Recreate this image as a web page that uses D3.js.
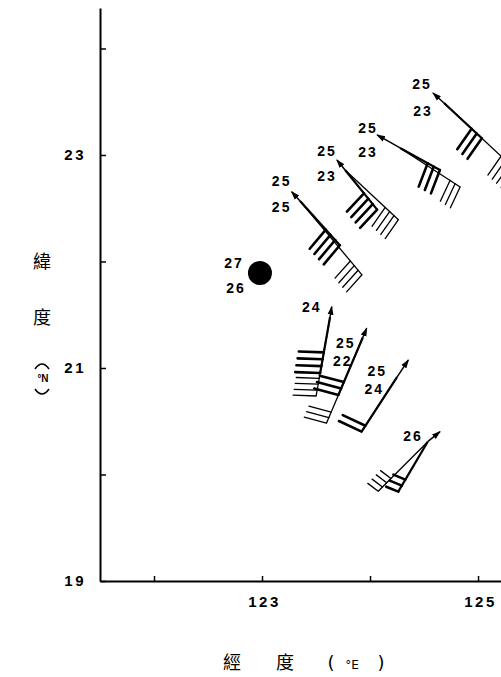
<!DOCTYPE html>
<html>
<head>
<meta charset="utf-8">
<script src="https://cdn.jsdelivr.net/npm/d3@7"></script>
<style>
  body { margin: 0; background: #fff; }
  svg { display: block; }
</style>
</head>
<body>
<div id="chart"></div>
<script>
// station base points (deg E / deg N)
const stationLon = [124.685, 124.278, 123.769, 123.352, 122.981, 123.630, 123.933, 124.25, 124.534];
const stationLat = [23.488, 23.066, 22.859, 22.568, 21.892, 21.479, 21.286, 20.915, 20.308];
// arrow vector: compass direction and length (deg of longitude)
const arrowDir = [312, 299.5, 321, 318, null, 9.4, 23, 33.6, 51];
const arrowLen = [0.138, 0.244, 0.12, 0.116, 0, 0.096, 0.093, 0.189, 0.147];
// heavy barb shaft
const thickDir = [133, 119, 141, 138, null, 190, 203, 213, 210.5];
const thickLen = [0.479, 0.422, 0.472, 0.551, 0, 0.527, 0.578, 0.602, 0.537];
const thickBarbs = ["FFF", "FFF", "FFFF", "FFFF", "", "FFFF", "FFF", "FF", "hhh"];
// light barb shaft
const thinDir = [133, 123, 133, 140, null, 190, 203, 213, 225];
const thinLen = [0.889, 0.663, 0.675, 0.892, 0, 0.743, 0.861, 0.602, 0.648];
const thinBarbs = ["FFFF", "FFF", "FFFF", "FFFF", "", "FFFF", "FFF", "", "hhhh"];
// numbers printed beside each station
const tempTop = ["25", "25", "25", "25", "27", "24", "25", "25", "26"];
const tempBottom = ["23", "23", "23", "25", "26", "", "22", "24", ""];

const xTicks = [122, 123, 124, 125];
const xTickLabels = {123: "123", 125: "125"};
const yTicks = [19, 20, 21, 22, 23, 24];
const yTickLabels = {19: "19", 21: "21", 23: "23"};

// label placement relative to arrow tip (px) - layout only
const labelOffsetTop = [[-12,-9],[-10,-7],[-11,-9],[-11,-11],[-27,-10],[-21,0],[-22,15],[-32,11],[-28,4]];
const labelOffsetBottom = [[-11,18],[-10,17],[-11,16],[-11,15],[-25,15],null,[-25,33],[-35,29],null];

const width = 501;
const height = 677;

const svg = d3.select("#chart").append("svg")
    .attr("width", width)
    .attr("height", height);

const x = d3.scaleLinear().domain([121.5, 125.22]).range([100, 501.8]);
const y = d3.scaleLinear().domain([19, 24.38]).range([581, 8]);

//arrow head
svg.append("defs").append("marker")
    .attr("id", "head")
    .attr("markerUnits", "userSpaceOnUse")
    .attr("viewBox", "0 -4 9 8")
    .attr("refX", 8)
    .attr("refY", 0)
    .attr("markerWidth", 9)
    .attr("markerHeight", 8)
    .attr("orient", "auto")
    .append("path")
    .attr("d", "M0,-3L9,0L0,3Z")
    .attr("fill", "#000");

//axes
const yAxis = d3.axisLeft(y)
    .tickValues(yTicks)
    .tickSizeInner(-6)
    .tickSizeOuter(0)
    .tickPadding(14)
    .tickFormat(d => yTickLabels[d] || "");

const xAxis = d3.axisBottom(x)
    .tickValues(xTicks)
    .tickSizeInner(-5)
    .tickSizeOuter(0)
    .tickPadding(15)
    .tickFormat(d => xTickLabels[d] || "");

const gy = svg.append("g")
    .attr("transform", "translate(" + x(121.5) + ",0)")
    .call(yAxis);
const gx = svg.append("g")
    .attr("transform", "translate(0," + y(19) + ")")
    .call(xAxis);

[gx, gy].forEach(g => {
    g.select(".domain").attr("stroke-width", 2);
    g.selectAll(".tick line").attr("stroke-width", 1.5);
    g.selectAll("text")
        .attr("font-family", "Liberation Sans, Arial, sans-serif")
        .attr("font-size", 15)
        .attr("font-weight", "bold")
        .attr("letter-spacing", 2.5)
        .attr("fill", "#000");
});
gx.selectAll("text").attr("dx", 2);

//axis titles
const cjk = "Noto Sans CJK TC, Noto Sans CJK SC, sans-serif";
svg.append("text").attr("x", 42).attr("y", 268).attr("text-anchor", "middle")
    .attr("font-family", cjk).attr("font-size", 18).text("緯");
svg.append("text").attr("x", 42).attr("y", 324).attr("text-anchor", "middle")
    .attr("font-family", cjk).attr("font-size", 18).text("度");
// vertical parentheses around °N
svg.append("path").attr("d", "M35,369 Q42,359 49,369")
    .attr("fill", "none").attr("stroke", "#000").attr("stroke-width", 1.6);
svg.append("text").attr("x", 43).attr("y", 382).attr("text-anchor", "middle")
    .attr("font-family", "Liberation Sans, Arial").attr("font-weight", "bold")
    .attr("font-size", 10).text("°N");
svg.append("path").attr("d", "M35,389 Q42,399 49,389")
    .attr("fill", "none").attr("stroke", "#000").attr("stroke-width", 1.6);

const xTitle = [["經", 232], ["度", 285], ["(", 331], ["°E", 352], [")", 381]];
svg.selectAll(".xtitle")
    .data(xTitle)
    .enter()
    .append("text")
    .attr("class", "xtitle")
    .attr("x", d => d[1])
    .attr("y", 669)
    .attr("text-anchor", "middle")
    .attr("font-family", d => d[0].length == 1 && d[0] > "~" ? cjk : "DejaVu Sans")
    .attr("font-size", d => d[0] == "°E" ? 12 : 18)
    .text(d => d[0]);

//geometry helpers
const lenPx = L => x(121.5 + L) - x(121.5);
const unit = deg => [Math.sin(deg * Math.PI / 180), -Math.cos(deg * Math.PI / 180)];
const rot = (u, a) => {
    const r = a * Math.PI / 180;
    return [u[0] * Math.cos(r) - u[1] * Math.sin(r), u[0] * Math.sin(r) + u[1] * Math.cos(r)];
};

const plot = svg.append("g");

stationLon.forEach((lon, i) => {
    const bx = x(lon), by = y(stationLat[i]);
    let tip = [bx, by];

    if (arrowDir[i] === null) {
        // calm
        plot.append("circle").attr("cx", bx).attr("cy", by).attr("r", 12).attr("fill", "#000");
    } else {
        //two barb shafts
        [[thinDir, thinLen, thinBarbs, 1.3, 23, 6], [thickDir, thickLen, thickBarbs, 2.2, 25, 7]]
            .forEach(([dirs, lens, barbs, sw, bl, sp]) => {
                const u = unit(dirs[i]);
                const L = lenPx(lens[i]);
                const ex = bx + u[0] * L, ey = by + u[1] * L;
                plot.append("line")
                    .attr("x1", bx).attr("y1", by).attr("x2", ex).attr("y2", ey)
                    .attr("stroke", "#000").attr("stroke-width", sw);
                const bu = rot(u, 82);
                barbs[i].split("").forEach((b, k) => {
                    const px = ex - u[0] * k * sp, py = ey - u[1] * k * sp;
                    const len = b == "F" ? bl : 13;
                    plot.append("line")
                        .attr("x1", px).attr("y1", py)
                        .attr("x2", px + bu[0] * len).attr("y2", py + bu[1] * len)
                        .attr("stroke", "#000")
                        .attr("stroke-width", sw == 2.2 ? 2.6 : 1.3)
                        .attr("stroke-linecap", "round");
                });
            });
        //arrow
        const au = unit(arrowDir[i]);
        const AL = lenPx(arrowLen[i]);
        tip = [bx + au[0] * AL, by + au[1] * AL];
        plot.append("line")
            .attr("x1", bx).attr("y1", by).attr("x2", tip[0]).attr("y2", tip[1])
            .attr("stroke", "#000").attr("stroke-width", 1.5)
            .attr("marker-end", "url(#head)");
    }

    //numbers
    [[tempTop, labelOffsetTop], [tempBottom, labelOffsetBottom]].forEach(([vals, offs]) => {
        if (!vals[i] || !offs[i]) return;
        plot.append("text")
            .attr("x", tip[0] + offs[i][0] + 1)
            .attr("y", tip[1] + offs[i][1])
            .attr("text-anchor", "middle")
            .attr("dominant-baseline", "central")
            .attr("font-family", "Liberation Sans, Arial, sans-serif")
            .attr("font-size", 14)
            .attr("font-weight", "bold")
            .attr("letter-spacing", 2)
            .text(vals[i]);
    });
});
</script>
</body>
</html>
